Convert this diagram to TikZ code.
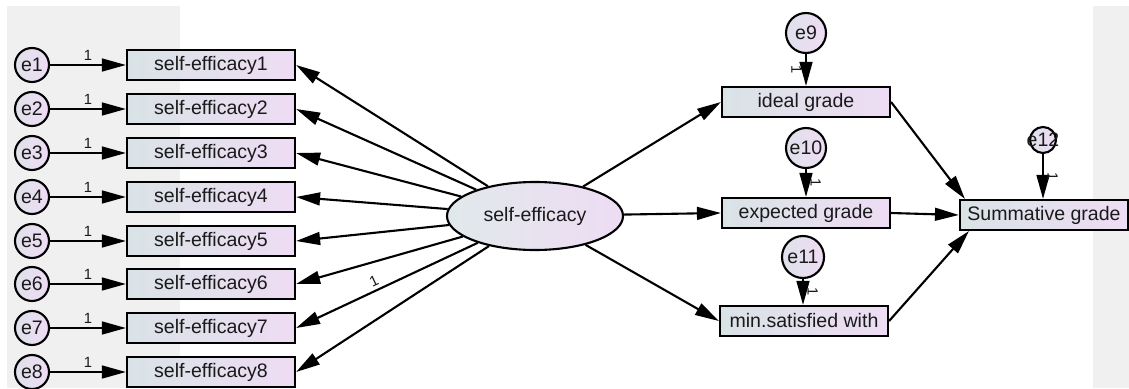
\documentclass[tikz,border=0pt]{standalone}
\usepackage{fontspec}
\setmainfont{Liberation Sans}
\usetikzlibrary{arrows.meta,positioning,shapes.geometric}
\definecolor{panel}{HTML}{F0F0F0}
\definecolor{cool}{HTML}{D9E3E6}
\definecolor{lilac}{HTML}{EEDCF4}
\definecolor{ink}{HTML}{1A1A1A}
\tikzset{obs/.style={draw=black,line width=1.5pt,left color=cool,right color=lilac,
  minimum width=4.2cm,minimum height=7.5mm,inner sep=1pt,text=ink,
  font=\fontsize{13.9}{16}\selectfont},
  latent/.style={ellipse,draw=black,line width=1.5pt,left color=cool!80!white,right color=lilac,
  minimum width=4.4cm,minimum height=1.7cm,inner sep=0pt,text=ink,
  font=\fontsize{13.9}{16}\selectfont},
  err/.style={circle,draw=black,line width=1.5pt,left color=cool!70!lilac,right color=lilac,
  minimum size=8.5mm,inner sep=0pt,text=ink,font=\fontsize{13.9}{16}\selectfont},
  arrow/.style={-{Triangle[length=6mm,width=3.2mm]},line width=1.5pt,draw=black},
  one/.style={font=\fontsize{10.5}{12}\selectfont,text=ink,inner sep=2.5pt}}

\begin{document}
\begin{tikzpicture}[x=0.025cm,y=-0.025cm]
\useasboundingbox (0,0) rectangle (1129,388);
\fill[panel] (7,6) rectangle (180,388);
\fill[panel] (1093,6) rectangle (1129,388);
\node[latent] (se) at (535,216) {self-efficacy};
\foreach \i/\y in {1/65,2/109,3/153,4/197,5/241,6/284,7/328,8/372}{
  \node[err] (e\i) at (32,\y) {e\i};
  \node[obs] (s\i) at (211,\y) {self-efficacy\i};
  \draw[arrow] (e\i) -- node[one,above,pos=0.5]{1} (s\i);
  \draw[arrow] (se) -- (s\i.east);}
\path (se) -- node[one,sloped,above,pos=0.55]{1} (s7.east);
\node[obs] (ig) at (806,102) {ideal grade};
\node[obs] (eg) at (806,213) {expected grade};
\node[obs] (ms) at (804,321) {min.satisfied with};
\node[obs] (sg) at (1044,215) {Summative grade};
\node[err,minimum size=1cm] (e9) at (806,33) {e9};
\node[err,minimum size=1cm] (e10) at (806,148) {e10};
\node[err,minimum size=1.05cm] (e11) at (803,257) {e11};
\node[err,minimum size=6.5mm] (e12) at (1043,140) {\makebox[0pt]{e12}};
\draw[arrow] (e9) -- node[one,sloped,below]{1} (e9 |- ig.north);
\draw[arrow] (e10) -- node[one,sloped,above]{1} (e10 |- eg.north);
\draw[arrow] (e11) -- node[one,sloped,above]{1} (e11 |- ms.north);
\draw[arrow] (e12) -- node[one,sloped,above]{1} (e12 |- sg.north);
\draw[arrow] (se) -- (ig.west);
\draw[arrow] (se) -- (eg.west);
\draw[arrow] (se) -- (ms.west);
\draw[arrow] (ig.east) -- ([xshift=1.5mm]sg.north west);
\draw[arrow] (eg.east) -- (sg.west);
\draw[arrow] (ms.east) -- ([xshift=2.5mm]sg.south west);
\end{tikzpicture}
\end{document}
